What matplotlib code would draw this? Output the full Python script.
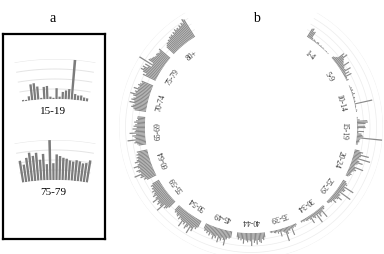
import numpy as np
import matplotlib.pyplot as plt

plt.rcParams['font.family'] = ['Liberation Serif', 'DejaVu Serif']

# age groups around the circle, clockwise from the top gap
age_groups = ["1-4", "5-9", "10-14", "15-19", "20-24", "25-29", "30-34", "35-39",
              "40-44", "45-49", "50-54", "55-59", "60-64", "65-69", "70-74",
              "75-79", "80+"]

# bar values per group (22 bars each, 0-100 scale)
v_1_4 = [38, 42, 30, 34, 10, 5, 8, 6, 4, 7, 9, 3, 4, 6, 3, 5, 4, 2, 3, 4, 2, 3]
v_5_9 = [10, 14, 20, 48, 40, 55, 35, 30, 26, 22, 44, 20, 15, 18, 38, 12, 25, 10, 30, 8, 6, 10]
v_10_14 = [3, 4, 8, 5, 10, 3, 6, 12, 4, 3, 8, 5, 4, 6, 3, 70, 5, 4, 3, 2, 6, 4]
v_15_19 = [4, 3, 11, 40, 42, 33, 4, 31, 33, 6, 3, 27, 6, 18, 22, 26, 100, 15, 12, 13, 9, 8]
v_20_24 = [20, 35, 28, 60, 30, 25, 70, 22, 30, 45, 26, 20, 18, 55, 24, 30, 22, 18, 15, 20, 16, 12]
v_25_29 = [15, 20, 25, 18, 60, 22, 30, 28, 20, 65, 18, 24, 22, 40, 26, 20, 18, 30, 14, 16, 12, 10]
v_30_34 = [10, 15, 12, 45, 18, 20, 30, 16, 50, 14, 22, 18, 12, 35, 16, 10, 14, 12, 8, 10, 6, 8]
v_35_39 = [8, 12, 10, 14, 40, 12, 18, 16, 28, 55, 20, 14, 12, 30, 10, 16, 8, 12, 10, 6, 8, 5]
v_40_44 = [20, 30, 25, 40, 35, 28, 45, 30, 38, 25, 50, 32, 28, 36, 30, 26, 42, 24, 30, 22, 28, 20]
v_45_49 = [25, 30, 28, 35, 60, 40, 32, 45, 38, 55, 30, 42, 36, 48, 34, 30, 40, 28, 35, 26, 30, 22]
v_50_54 = [30, 40, 35, 55, 45, 70, 40, 50, 60, 38, 48, 42, 65, 40, 36, 44, 30, 38, 34, 28, 32, 26]
v_55_59 = [35, 45, 50, 40, 75, 55, 48, 60, 52, 45, 68, 50, 42, 55, 46, 40, 48, 38, 42, 35, 40, 30]
v_60_64 = [40, 50, 45, 60, 55, 80, 50, 58, 65, 48, 55, 70, 52, 45, 60, 50, 44, 48, 40, 46, 38, 42]
v_65_69 = [30, 35, 45, 40, 70, 38, 42, 50, 35, 60, 40, 36, 48, 32, 44, 38, 30, 42, 35, 28, 32, 30]
v_70_74 = [45, 50, 60, 55, 48, 70, 52, 65, 58, 50, 62, 75, 55, 60, 50, 68, 52, 48, 56, 50, 45, 48]
v_75_79 = [55, 44, 60, 72, 63, 70, 52, 66, 40, 100, 42, 64, 60, 56, 54, 50, 48, 52, 50, 46, 48, 56]
v_80p = [40, 45, 50, 48, 55, 52, 60, 58, 62, 55, 65, 60, 70, 64, 68, 62, 72, 66, 75, 70, 85, 80]

group_values = [v_1_4, v_5_9, v_10_14, v_15_19, v_20_24, v_25_29, v_30_34, v_35_39,
                v_40_44, v_45_49, v_50_54, v_55_59, v_60_64, v_65_69, v_70_74,
                v_75_79, v_80p]

grid_levels = [25, 50, 75, 100]

W, H = 384, 255
fig = plt.figure(figsize=(W / 100, H / 100), dpi=100)


def px_rect(x0, y0, x1, y1):
    return [x0 / W, 1 - y1 / H, (x1 - x0) / W, (y1 - y0) / H]


# ---- panel a: box behind the enlarged groups ----
box = fig.add_axes(px_rect(3, 35, 105, 240))
box.set_xticks([])
box.set_yticks([])
for s in box.spines.values():
    s.set_linewidth(1.6)
    s.set_color('black')

fig.text(53 / W, 1 - 18 / H, "a", ha='center', va='center', fontsize=10)


def inset(y_top, vals, label, label_y):
    # a big polar axes; only the top sector carries marks
    Ro = 240
    cx_i, cy_i = 55, y_top + Ro
    a = fig.add_axes(px_rect(cx_i - Ro, cy_i - Ro, cx_i + Ro, cy_i + Ro), projection='polar')
    a.set_theta_zero_location('N')
    a.set_theta_direction(-1)
    a.set_rorigin(-500)
    a.set_ylim(0, 100)
    a.set_axis_off()
    a.patch.set_visible(False)
    t = np.deg2rad(np.linspace(-9.6, 9.6, 100))
    for lev in grid_levels:
        a.plot(t, np.full_like(t, lev), color='#e4e4e4', lw=0.7, zorder=1)
    step = 0.87
    th = np.deg2rad((np.arange(len(vals)) - (len(vals) - 1) / 2) * step)
    a.bar(th, vals, width=np.deg2rad(step * 0.72), bottom=0,
          color='#7c7c7c', linewidth=0, zorder=2)
    fig.text(53 / W, 1 - label_y / H, label, ha='center', va='center', fontsize=8)


inset(60, v_15_19, "15-19", 112)
inset(141, v_75_79, "75-79", 193)

# ---- panel b: circular bar chart ----
cx, cy, R = 251, 128, 132
ax = fig.add_axes(px_rect(cx - R, cy - R, cx + R, cy + R), projection='polar')
ax.set_theta_zero_location('N')
ax.set_theta_direction(-1)
ax.set_ylim(0, 100)
ax.set_rorigin(-408)
ax.set_axis_off()
ax.patch.set_visible(False)

group_step = 17.6
bar_step = 0.68
n_bars = len(v_1_4)
centers = 180 + (np.arange(len(age_groups)) - 8) * group_step
offsets = (np.arange(n_bars) - (n_bars - 1) / 2) * bar_step

arc = np.deg2rad(np.linspace(centers[0] - 9, centers[-1] + 9, 400))
for lev in grid_levels:
    ax.plot(arc, np.full_like(arc, lev), color='#ececec', lw=0.5, zorder=1)

for c, name, vals in zip(centers, age_groups, group_values):
    th = np.deg2rad(c + offsets)
    ax.bar(th, vals, width=np.deg2rad(bar_step * 0.85), bottom=0,
           color='#8a8a8a', linewidth=0, zorder=2)
    ax.text(np.deg2rad(c), -50, name, rotation=-c, rotation_mode='anchor',
            ha='center', va='center', fontsize=5.5, color='#333333')

fig.text(256 / W, 1 - 18 / H, "b", ha='center', va='center', fontsize=10)

fig.savefig("out.png", dpi=100)
